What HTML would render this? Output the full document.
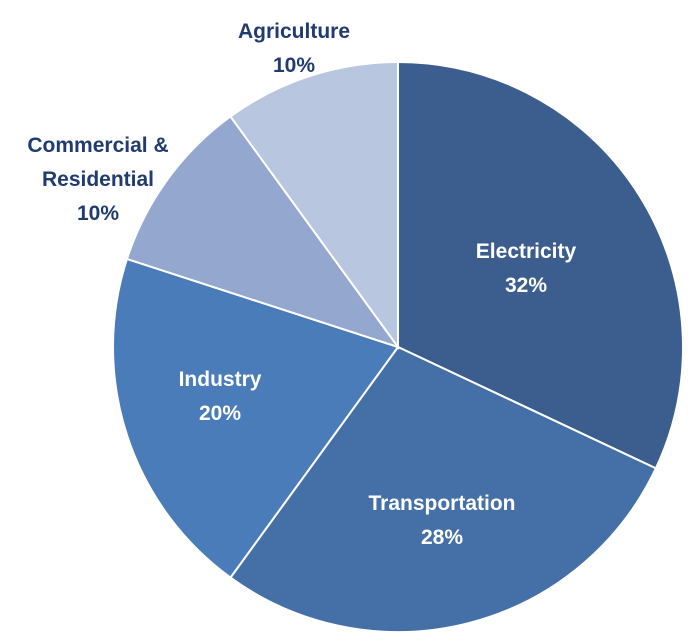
<!DOCTYPE html>
<html>
<head>
<meta charset="utf-8">
<style>
html,body{margin:0;padding:0;background:#fff;}
svg{display:block;}
text{font-family:"Liberation Sans",sans-serif;font-weight:bold;font-size:21px;text-anchor:middle;}
</style>
</head>
<body>
<svg id="chart" width="699" height="642" viewBox="0 0 699 642"></svg>
<script>
const categories = ["Electricity", "Transportation", "Industry", "Commercial & Residential", "Agriculture"];
const values = [32, 28, 20, 10, 10];
const colors = ["#3b5e8e", "#4470a7", "#4a7cba", "#93a7cf", "#b9c6df"];
const labelLines = [["Electricity","32%"],["Transportation","28%"],["Industry","20%"],["Commercial &","Residential","10%"],["Agriculture","10%"]];
const labelPos = [[526,258],[442,510],[220,386],[98,152],[294,38]];
const labelColor = ["#fff","#fff","#fff","#1f3b6f","#1f3b6f"];

const svg = document.getElementById('chart');
const NS = "http://www.w3.org/2000/svg";
const cx = 398, cy = 347, r = 285;
const total = values.reduce((a,b)=>a+b,0);
function angle(v){ return v/total*2*Math.PI; }
function pt(a){ return [cx + r*Math.sin(a), cy - r*Math.cos(a)]; }
let acc = 0;
values.forEach((v,i)=>{
  const a0 = angle(acc), a1 = angle(acc+v);
  acc += v;
  const p0 = pt(a0), p1 = pt(a1);
  const large = (a1-a0) > Math.PI ? 1 : 0;
  const path = document.createElementNS(NS,'path');
  path.setAttribute('d', `M${cx},${cy} L${p0[0]},${p0[1]} A${r},${r} 0 ${large} 1 ${p1[0]},${p1[1]} Z`);
  path.setAttribute('fill', colors[i]);
  path.setAttribute('stroke', '#fff');
  path.setAttribute('stroke-width', '2');
  
  
  svg.appendChild(path);
});
labelLines.forEach((lines,i)=>{
  const t = document.createElementNS(NS,'text');
  t.setAttribute('fill', labelColor[i]);
  
  
  lines.forEach((ln,j)=>{
    const s = document.createElementNS(NS,'tspan');
    s.setAttribute('x', labelPos[i][0]);
    s.setAttribute('y', labelPos[i][1] + j*34);
    s.textContent = ln;
    t.appendChild(s);
  });
  svg.appendChild(t);
});
</script>
</body>
</html>
